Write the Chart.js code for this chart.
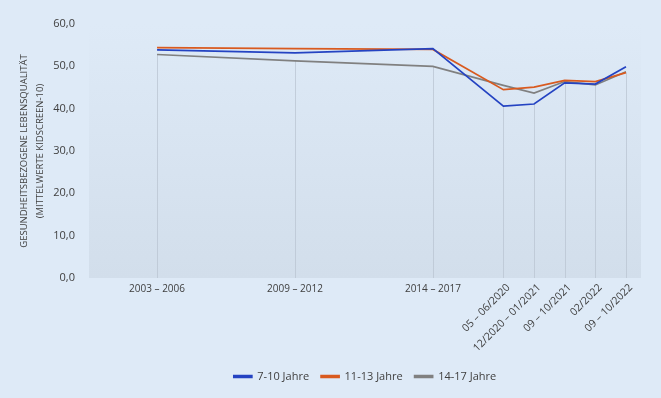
<!DOCTYPE html>
<html lang="de">
<head>
  <meta charset="UTF-8">
  <script src="https://cdn.jsdelivr.net/npm/chart.js"></script>
  <title>KIDSCREEN-10</title>
  <style>
    html, body {
      margin: 0;
      padding: 0;
      background-color: #deeaf7;
    }
    #wrap {
      width: 661px;
      height: 398px;
    }
  </style>
</head>
<body>
  <div id="wrap">
    <canvas id="lineChart" width="661" height="398"></canvas>
  </div>

  <script>
    // Zeitpunkte der Erhebungen
    const periods = ["2003 \u2013 2006", "2009 \u2013 2012", "2014 \u2013 2017", "05 \u2013 06/2020",
      "12/2020 \u2013 01/2021", "09 \u2013 10/2021", "02/2022", "09 \u2013 10/2022"];
    // Abstand der Zeitpunkte auf der x-Achse (wie im Original nicht gleichmaessig)
    const periodPos = [0, 4.5, 9, 11.3, 12.3, 13.3, 14.3, 15.3];

    const age7to10 = [53.9, 53.2, 54.2, 40.6, 41.1, 46.1, 45.8, 49.9];
    const age11to13 = [54.4, 54.2, 54.0, 44.5, 45.1, 46.7, 46.4, 48.5];
    const age14to17 = [52.8, 51.3, 50.0, 45.5, 43.7, 46.4, 45.6, 48.7];

    const yTicks = [0, 10, 20, 30, 40, 50, 60];

    const textColor = "#404040";
    const fontFamily = "'Open Sans', sans-serif";

    function toPoints(values) {
      return values.map((v, i) => ({ x: periodPos[i], y: v }));
    }

    // Hintergrund der Zeichenflaeche (leichter Verlauf)
    const plotBackground = {
      id: "plotBackground",
      beforeDraw(chart) {
        const { ctx, chartArea } = chart;
        const grad = ctx.createLinearGradient(0, chartArea.top, 0, chartArea.bottom);
        grad.addColorStop(0, "#deeaf7");
        grad.addColorStop(1, "#d2deeb");
        ctx.save();
        ctx.fillStyle = grad;
        ctx.fillRect(chartArea.left, chartArea.top, chartArea.right - chartArea.left, chartArea.bottom - chartArea.top);
        ctx.restore();
      }
    };

    // senkrechte Linien vom Datenpunkt zur Achse
    const dropLines = {
      id: "dropLines",
      beforeDatasetsDraw(chart) {
        const { ctx, chartArea, scales } = chart;
        ctx.save();
        ctx.strokeStyle = "rgba(185, 196, 210, 0.75)";
        ctx.lineWidth = 1;
        periodPos.forEach((p, i) => {
          const low = Math.min(age7to10[i], age11to13[i], age14to17[i]);
          const x = Math.round(scales.x.getPixelForValue(p)) + 0.5;
          ctx.beginPath();
          ctx.moveTo(x, scales.y.getPixelForValue(low));
          ctx.lineTo(x, chartArea.bottom);
          ctx.stroke();
        });
        ctx.restore();
      }
    };

    // Beschriftung der x-Achse: die ersten drei waagrecht, der Rest schraeg
    const xLabels = {
      id: "xLabels",
      afterDraw(chart) {
        const { ctx, chartArea, scales } = chart;
        ctx.save();
        ctx.fillStyle = textColor;
        ctx.textBaseline = "middle";
        periods.forEach((label, i) => {
          const x = scales.x.getPixelForValue(periodPos[i]);
          if (i < 3) {
            ctx.font = "10px " + fontFamily;
            ctx.textAlign = "center";
            ctx.fillText(label, x, chartArea.bottom + 11);
          } else {
            ctx.font = "10.5px " + fontFamily;
            ctx.save();
            ctx.translate(x + 5, chartArea.bottom + 8);
            ctx.rotate(-Math.PI / 4);
            ctx.textAlign = "right";
            ctx.fillText(label, 0, 0);
            ctx.restore();
          }
        });
        ctx.restore();
      }
    };

    function makeSet(label, values, color) {
      return {
        label: label,
        data: toPoints(values),
        borderColor: color,
        backgroundColor: color,
        borderWidth: 1.7,
        pointRadius: 0,
        tension: 0
      };
    }

    new Chart(document.getElementById("lineChart"), {
      type: "line",
      data: {
        datasets: [
          makeSet("7-10 Jahre", age7to10, "#2443c2"),
          makeSet("11-13 Jahre", age11to13, "#d95a1f"),
          makeSet("14-17 Jahre", age14to17, "#808080")
        ]
      },
      plugins: [plotBackground, dropLines, xLabels],
      options: {
        responsive: false,
        animation: false,
        layout: { padding: { top: 24, right: 20, bottom: 6, left: 16 } },
        scales: {
          x: {
            type: "linear",
            min: -2.22,
            max: 15.79,
            grid: { display: false },
            border: { display: false },
            ticks: { display: false },
            afterFit(scale) { scale.height = 81; }
          },
          y: {
            min: 0,
            max: 60,
            afterBuildTicks(scale) {
              scale.ticks = yTicks.map(v => ({ value: v }));
            },
            afterFit(scale) { scale.width = 73; },
            grid: { display: false },
            border: { display: false },
            ticks: {
              color: textColor,
              font: { family: fontFamily, size: 11 },
              padding: 6,
              callback: v => v.toFixed(1).replace(".", ",")
            },
            title: {
              display: true,
              text: ["GESUNDHEITSBEZOGENE LEBENSQUALITÄT", "(MITTELWERTE KIDSCREEN-10)"],
              color: textColor,
              font: { family: fontFamily, size: 9.5, lineHeight: 1.7 },
              padding: { top: 0, bottom: 6 }
            }
          }
        },
        plugins: {
          legend: {
            position: "bottom",
            fullSize: false,
            labels: {
              color: textColor,
              font: { family: fontFamily, size: 11 },
              boxWidth: 18,
              boxHeight: 2,
              padding: 12
            }
          },
          tooltip: { enabled: false }
        }
      }
    });
  </script>
</body>
</html>
